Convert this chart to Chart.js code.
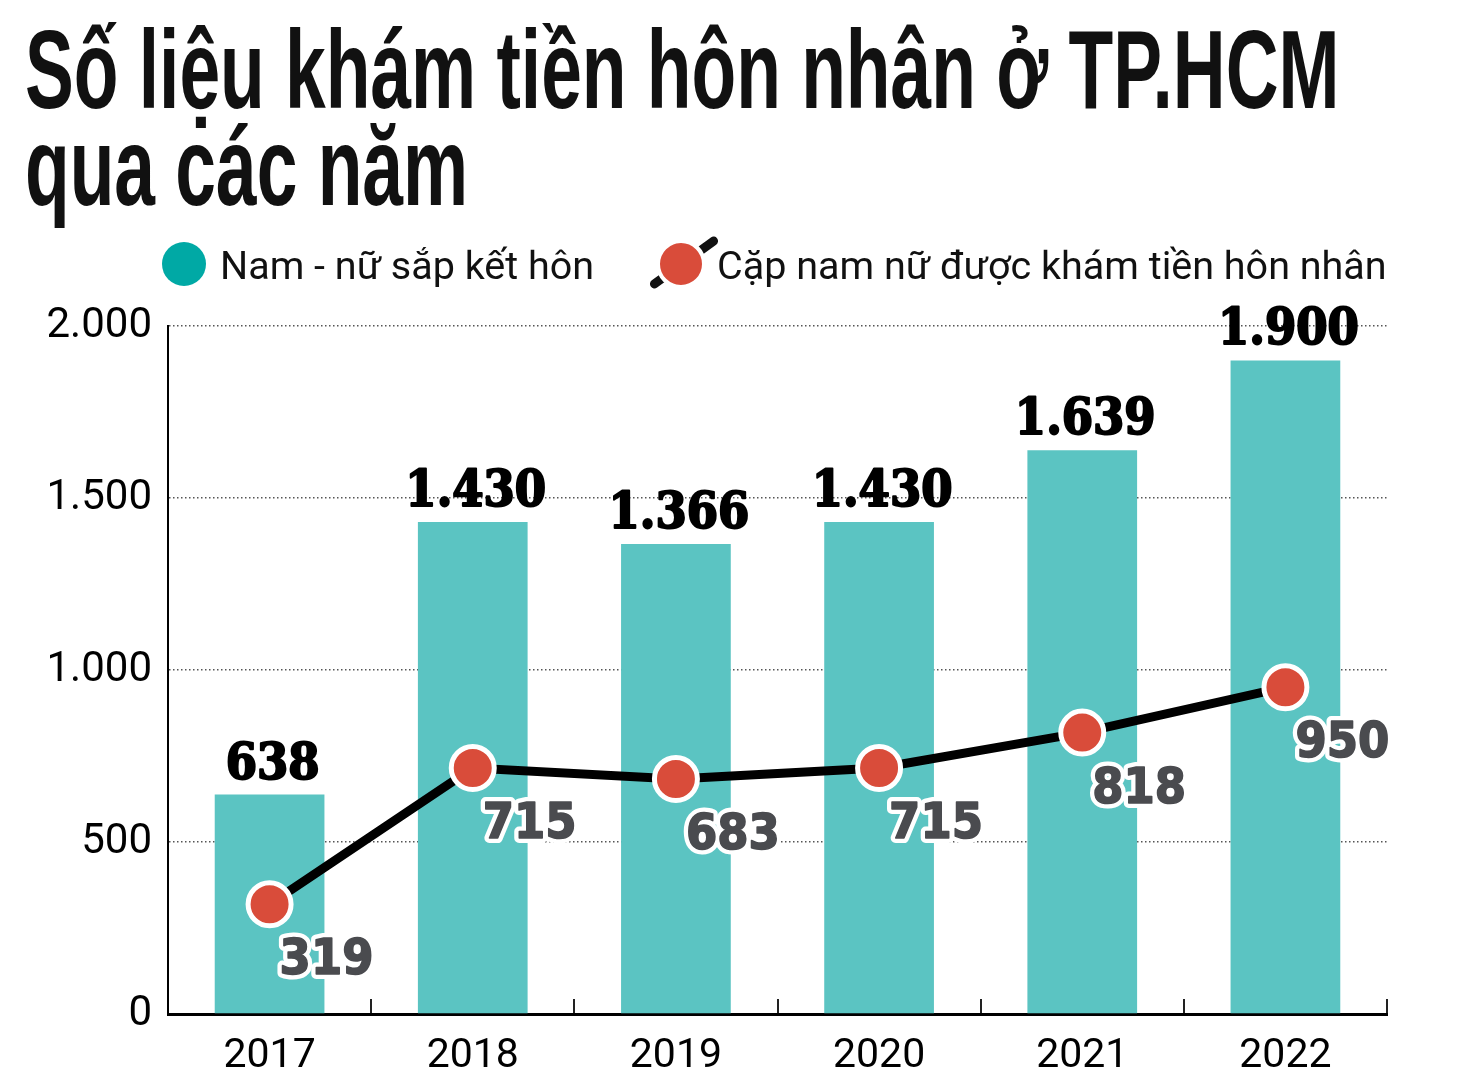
<!DOCTYPE html>
<html lang="vi">
<head>
<meta charset="utf-8">
<title>Số liệu khám tiền hôn nhân ở TP.HCM</title>
<script src="https://cdn.jsdelivr.net/npm/chart.js@4.4.1/dist/chart.umd.min.js"></script>
<style>
  html, body { margin: 0; padding: 0; background: #fff; }
  .wrap { position: relative; width: 1460px; height: 1086px; overflow: hidden; }
  .title {
    position: absolute; left: 25px; top: 21px; margin: 0;
    font-family: "Liberation Sans Narrow", "Liberation Sans", sans-serif;
    font-weight: bold; font-size: 112px; line-height: 97px; color: #111;
    transform: scaleX(0.653); transform-origin: left top; white-space: nowrap;
  }
  .item { position: absolute; white-space: nowrap; font-family: Roboto, sans-serif; font-size: 39.5px; color: #111; }
  .dot-teal { position: absolute; left: 162px; top: 242px; width: 44px; height: 44px; border-radius: 50%; background: #00a9a5; }
  .mark-line { position: absolute; left: 643px; top: 258px; width: 82px; height: 9px; border-radius: 5px; background: #111; transform: rotate(-36deg); }
  .dot-red { position: absolute; left: 656px; top: 239px; width: 42px; height: 42px; border-radius: 50%; background: #d94c3a; border: 4px solid #fff; }
  #chart { position: absolute; left: 0; top: 0; }
</style>
</head>
<body>
<div class="wrap">
  <canvas id="chart" width="1460" height="1086"></canvas>
  <h1 class="title">Số liệu khám tiền hôn nhân ở TP.HCM<br>qua các năm</h1>
  <div class="dot-teal"></div>
  <div class="item" style="left:220px; top:242px;">Nam - nữ sắp kết hôn</div>
  <div class="mark-line"></div>
  <div class="dot-red"></div>
  <div class="item" style="left:717px; top:242px;">Cặp nam nữ được khám tiền hôn nhân</div>
</div>
<script>
const years = ["2017", "2018", "2019", "2020", "2021", "2022"];
const engaged = [638, 1430, 1366, 1430, 1639, 1900];
const examined = [319, 715, 683, 715, 818, 950];
const yTicks = [0, 500, 1000, 1500, 2000];

function fmt(v) {
  return String(v).replace(/\B(?=(\d{3})+(?!\d))/g, ".");
}

const valueLabels = {
  id: "valueLabels",
  afterDatasetsDraw(chart) {
    const ctx = chart.ctx;
    const bars = chart.getDatasetMeta(1).data;
    const dots = chart.getDatasetMeta(0).data;
    ctx.save();
    ctx.lineJoin = "round";
    ctx.font = 'bold 50px "DejaVu Serif Condensed", "DejaVu Serif", serif';
    ctx.textAlign = "center";
    ctx.textBaseline = "alphabetic";
    ctx.fillStyle = "#000";
    ctx.strokeStyle = "#000";
    ctx.lineWidth = 2;
    bars.forEach(function (bar, i) {
      ctx.strokeText(fmt(engaged[i]), bar.x + 3, bar.y - 16);
      ctx.fillText(fmt(engaged[i]), bar.x + 3, bar.y - 16);
    });
    ctx.font = 'bold 50px "DejaVu Sans Condensed", "DejaVu Sans", sans-serif';
    ctx.textAlign = "left";
    dots.forEach(function (pt, i) {
      const x = pt.x + 10, y = pt.y + 70;
      ctx.lineWidth = 10;
      ctx.strokeStyle = "#fff";
      ctx.strokeText(fmt(examined[i]), x, y);
      ctx.lineWidth = 1.5;
      ctx.strokeStyle = "#4a4b4f";
      ctx.strokeText(fmt(examined[i]), x, y);
      ctx.fillStyle = "#4a4b4f";
      ctx.fillText(fmt(examined[i]), x, y);
    });
    ctx.restore();
  }
};

new Chart("chart", {
  type: "bar",
  data: {
    labels: years,
    datasets: [{
      type: "line",
      label: "Cặp nam nữ được khám tiền hôn nhân",
      data: examined,
      order: 0,
      borderColor: "#000",
      borderWidth: 9,
      tension: 0,
      pointRadius: 21.5,
      pointHoverRadius: 21.5,
      pointBackgroundColor: "#d94c3a",
      pointBorderColor: "#fff",
      pointBorderWidth: 5
    }, {
      label: "Nam - nữ sắp kết hôn",
      data: engaged,
      order: 1,
      backgroundColor: "#5bc4c2",
      categoryPercentage: 1,
      barPercentage: 0.54
    }]
  },
  options: {
    responsive: false,
    animation: false,
    layout: { padding: { top: 326, right: 73, left: 0, bottom: 0 } },
    plugins: {
      legend: { display: false },
      title: { display: false },
      tooltip: { enabled: false }
    },
    scales: {
      x: {
        offset: true,
        afterFit: function (s) { s.height = 72; },
        border: { color: "#000", width: 3 },
        grid: { offset: true, drawOnChartArea: false, drawTicks: true, tickLength: -15, color: "#222", lineWidth: 2 },
        ticks: { color: "#000", padding: 33, font: { family: "Roboto", size: 41 } }
      },
      y: {
        min: 0,
        max: 2000,
        afterFit: function (s) { s.width = 168; },
        afterBuildTicks: function (s) { s.ticks = yTicks.map(v => ({ value: v })); },
        border: { color: "#000", width: 2, dash: [1.5, 2.5] },
        grid: { drawTicks: false, color: "#555", lineWidth: 1.5 },
        ticks: { color: "#000", padding: 16, font: { family: "Roboto", size: 42 }, callback: v => fmt(v) }
      }
    }
  },
  plugins: [valueLabels]
});
</script>
</body>
</html>
